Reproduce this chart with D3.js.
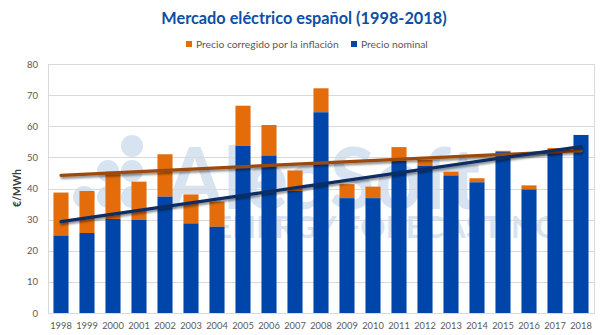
<!DOCTYPE html>
<html>
<head>
<meta charset="utf-8" />
<title>Mercado eléctrico español</title>
<script src="https://cdn.jsdelivr.net/npm/d3@7"></script>
<style>
  body { margin: 0; background: #fff; }
  svg text { font-family: Lato, "Open Sans", sans-serif; }
</style>
</head>
<body>
<div id="chart"></div>
<script>
// yearly averages, €/MWh
var years = ["1998","1999","2000","2001","2002","2003","2004","2005","2006","2007","2008",
             "2009","2010","2011","2012","2013","2014","2015","2016","2017","2018"];
var nominal = [24.9, 25.7, 30.2, 29.9, 37.4, 28.8, 27.7, 53.7, 50.6, 39.2, 64.5,
               36.9, 36.9, 48.9, 47.3, 44.2, 42.0, 51.7, 39.7, 52.2, 57.2];
var corrected = [38.7, 39.2, 45.4, 42.2, 51.0, 38.1, 35.8, 66.6, 60.4, 45.8, 72.2,
                 41.4, 40.6, 53.3, 49.2, 45.4, 43.3, 52.1, 41.0, 53.0, 57.2];
var yTicks = [0, 10, 20, 30, 40, 50, 60, 70, 80];
var legendLabels = ["Precio corregido por la inflación", "Precio nominal"];

var width = 600, height = 335;
var pLeft = 48, pRight = 594, pTop = 64, pBottom = 313;
var blue = "#0046AA", orange = "#E46C0A";

var svg = d3.select("#chart").append("svg").attr("width", width).attr("height", height);

var x = d3.scaleBand().domain(years).range([pLeft, pRight]).paddingInner(0.42).paddingOuter(0.21);
var y = d3.scaleLinear().domain([0, 80]).range([pBottom, pTop]);

// drop shadow for trend lines
var defs = svg.append("defs");
var f = defs.append("filter").attr("id", "shadow").attr("x", "-10%").attr("y", "-50%").attr("width", "120%").attr("height", "200%");
f.append("feDropShadow").attr("dx", 1).attr("dy", 2).attr("stdDeviation", 1.2)
  .attr("flood-color", "#000").attr("flood-opacity", 0.45);

// watermark
var wm = svg.append("g").attr("fill", "#D7E3F1");
[[132, 146], [108, 171], [132, 171], [84, 197], [108, 197], [132, 197]].forEach(function(c) {
  wm.append("circle").attr("cx", c[0]).attr("cy", c[1]).attr("r", 11);
});
wm.append("text").attr("x", 166).attr("y", 209).attr("font-size", 86).attr("font-weight", "bold")
  .attr("textLength", 314).attr("lengthAdjust", "spacingAndGlyphs").text("AleaSoft");
wm.append("text").attr("x", 214).attr("y", 238).attr("font-size", 30).attr("font-weight", "bold")
  .attr("textLength", 344).attr("lengthAdjust", "spacingAndGlyphs").text("ENERGY FORECASTING");

// gridlines + frame
svg.append("g").selectAll("line").data(yTicks).enter().append("line")
  .attr("x1", pLeft).attr("x2", pRight)
  .attr("y1", function(d) { return Math.round(y(d)) + 0.5; }).attr("y2", function(d) { return Math.round(y(d)) + 0.5; })
  .attr("stroke", "#D9D9D9").attr("stroke-width", 1);
svg.append("rect").attr("x", pLeft + 0.5).attr("y", pTop + 0.5).attr("width", pRight - pLeft)
  .attr("height", pBottom - pTop).attr("fill", "none").attr("stroke", "#D9D9D9");

// axes
var yAxis = svg.append("g").attr("transform", "translate(" + (pLeft - 10) + ",0)")
  .call(d3.axisLeft(y).tickValues(yTicks).tickSize(0).tickPadding(0));
yAxis.select(".domain").remove();
yAxis.selectAll("text").attr("font-size", 9.5).attr("fill", "#595959");

var xAxis = svg.append("g").attr("transform", "translate(0," + (pBottom + 9) + ")")
  .call(d3.axisBottom(x).tickSize(0).tickPadding(0));
xAxis.select(".domain").remove();
xAxis.selectAll("text").attr("font-size", 9.3).attr("fill", "#595959").attr("dy", "0.71em");

// bars: nominal at the bottom, inflation correction stacked on top
var rows = years.map(function(yr, i) { return { year: yr, nom: nominal[i], cor: corrected[i] }; });
svg.append("g").selectAll("rect").data(rows).enter().append("rect")
  .attr("x", function(d) { return x(d.year); }).attr("width", x.bandwidth())
  .attr("y", function(d) { return y(d.cor); })
  .attr("height", function(d) { return y(d.nom) - y(d.cor); })
  .attr("fill", orange);
svg.append("g").selectAll("rect").data(rows).enter().append("rect")
  .attr("x", function(d) { return x(d.year); }).attr("width", x.bandwidth())
  .attr("y", function(d) { return y(d.nom); })
  .attr("height", function(d) { return y(0) - y(d.nom); })
  .attr("fill", blue);

// least-squares trend lines
function trend(vals) {
  var n = vals.length, mx = (n - 1) / 2, my = d3.mean(vals);
  var sxy = 0, sxx = 0;
  vals.forEach(function(v, i) { sxy += (i - mx) * (v - my); sxx += (i - mx) * (i - mx); });
  var b = sxy / sxx;
  return [[0, my - b * mx], [n - 1, my + b * mx]];
}
var cx = function(i) { return x(years[i]) + x.bandwidth() / 2; };
var line = d3.line().x(function(p) { return cx(p[0]); }).y(function(p) { return y(p[1]); });

svg.append("path").datum(trend(corrected)).attr("d", line).attr("fill", "none")
  .attr("stroke", "#9C4A0B").attr("stroke-width", 3.2).attr("stroke-linecap", "round").attr("filter", "url(#shadow)");
svg.append("path").datum(trend(nominal)).attr("d", line).attr("fill", "none")
  .attr("stroke", "#0F2D63").attr("stroke-width", 3.2).attr("stroke-linecap", "round").attr("filter", "url(#shadow)");

// title
svg.append("text").attr("x", 304).attr("y", 24).attr("text-anchor", "middle")
  .attr("font-size", 16.3).attr("font-weight", "bold").attr("fill", "#0D4FA5")
  .text("Mercado eléctrico español (1998-2018)");

// legend
var legend = svg.append("g").attr("font-size", 10.3).attr("fill", "#595959");
[[186, orange, legendLabels[0]], [351, blue, legendLabels[1]]].forEach(function(l) {
  legend.append("rect").attr("x", l[0]).attr("y", 41).attr("width", 6).attr("height", 6).attr("fill", l[1]);
  legend.append("text").attr("x", l[0] + 10).attr("y", 48).text(l[2]);
});

// y axis title
svg.append("text").attr("transform", "translate(21,188) rotate(-90)").attr("text-anchor", "middle")
  .attr("font-size", 10.5).attr("font-weight", "bold").attr("fill", "#404040").text("€/MWh");
</script>
</body>
</html>
